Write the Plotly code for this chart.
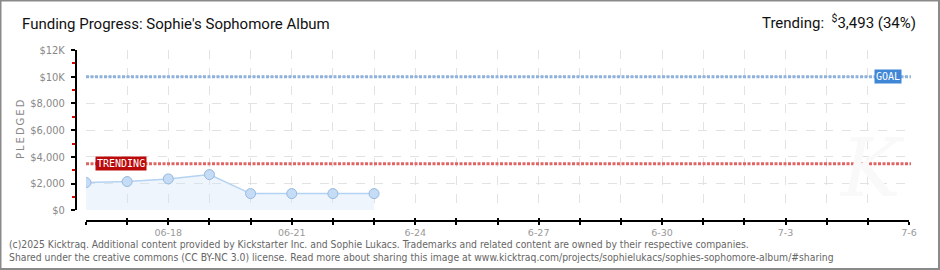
import plotly.graph_objects as go
import pandas as pd

# ---- data ----
dates = ["2025-06-16", "2025-06-17", "2025-06-18", "2025-06-19",
         "2025-06-20", "2025-06-21", "2025-06-22", "2025-06-23"]
pledged = [2077, 2150, 2350, 2675, 1250, 1250, 1250, 1250]
goal = 10000
trending = 3493
trending_pct = 34
title_text = "Funding Progress: Sophie's Sophomore Album"
y_tick_vals = [0, 2000, 4000, 6000, 8000, 10000, 12000]
y_tick_text = ["$0", "$2,000", "$4,000", "$6,000", "$8,000", "$10K", "$12K"]
x_days = pd.date_range("2025-06-16", "2025-07-06", freq="D")
x_label_map = {"2025-06-18": "06-18", "2025-06-21": "06-21", "2025-06-24": "6-24",
               "2025-06-27": "6-27", "2025-06-30": "6-30", "2025-07-03": "7-3",
               "2025-07-06": "7-6"}
footer1 = ("(c)2025 Kicktraq. Additional content provided by Kickstarter Inc. and Sophie Lukacs. "
           "Trademarks and related content are owned by their respective companies.")
footer2 = ("Shared under the creative commons (CC BY-NC 3.0) license. Read more about sharing this image at "
           "www.kicktraq.com/projects/sophielukacs/sophies-sophomore-album/#sharing")

W, H = 940, 270
L, R, T, B = 76, 31, 50, 49
PW, PH = W - L - R, H - T - B


def px(x):
    return (x - L) / PW


def py(y):
    return (H - B - y) / PH


tick_vals = [d.strftime("%Y-%m-%d") for d in x_days]
label_vals = [v for v in tick_vals if v in x_label_map]
label_text = [x_label_map[v] for v in label_vals]

fig = go.Figure()
fig.add_trace(go.Scatter(
    x=dates, y=pledged, mode="lines+markers",
    line=dict(color="#b4d2f2", width=1.5),
    fill="tozeroy", fillcolor="rgba(205,225,250,0.35)",
    marker=dict(size=10, color="#c4dcf6", line=dict(color="#98b8dc", width=1)),
    hoverinfo="skip", showlegend=False,
))
# invisible trace to attach the overlay axis (tick marks crossing the axis line)
fig.add_trace(go.Scatter(x=[dates[0]], y=[pledged[0]], xaxis="x2", mode="markers",
                         marker=dict(opacity=0), hoverinfo="skip", showlegend=False))

# goal & trending lines
fig.add_shape(type="line", xref="paper", yref="y", x0=px(86), x1=px(911), y0=goal, y1=goal,
              line=dict(color="#8fb2dc", width=3, dash="3px,1.5px"))
fig.add_shape(type="line", xref="paper", yref="y", x0=px(86), x1=px(911), y0=trending, y1=trending,
              line=dict(color="#e06464", width=3, dash="3px,1.5px"))

# frame
fig.add_shape(type="rect", xref="paper", yref="paper", x0=px(0.5), x1=px(939), y0=py(269), y1=py(0.5),
              line=dict(color="#8a8a8a", width=2), layer="above")

FONT = "DejaVu Sans Condensed, Roboto, sans-serif"
ts = "\u2009"

annos = [
    dict(x=px(20), y=py(24), text=title_text, xanchor="left", yanchor="middle",
         font=dict(size=15, color="#111", family="Roboto, sans-serif")),
    dict(x=px(918), y=py(22), xanchor="right", yanchor="middle",
         text=f"Trending:  <sup>$</sup>{trending:,} ({trending_pct}%)",
         font=dict(size=15, color="#111", family="Roboto, sans-serif")),
    dict(x=px(120.5), y=trending, yref="y", text="TRENDING", bgcolor="#bb0a0a",
         font=dict(size=10, color="white", family="DejaVu Sans Mono, monospace"),
         borderpad=1, xanchor="center", yanchor="middle"),
    dict(x=px(887.5), y=goal, yref="y", text="GOAL", bgcolor="#3f87d6",
         font=dict(size=10, color="white", family="DejaVu Sans Mono, monospace"),
         borderpad=1, xanchor="center", yanchor="middle"),
    dict(x=px(20), y=py(129), text=ts.join("PLEDGED"), textangle=-90, xanchor="center", yanchor="middle",
         font=dict(size=10, color="#888", family="DejaVu Sans, sans-serif")),
    dict(x=px(872), y=py(168), text="<i>K</i>", xanchor="center", yanchor="middle",
         font=dict(size=80, color="#f9f9f9", family="DejaVu Serif, serif")),
    dict(x=px(7), y=py(244.5), text=footer1, xanchor="left", yanchor="middle",
         font=dict(size=10.3, color="#666", family=FONT)),
    dict(x=px(7), y=py(257), text=footer2, xanchor="left", yanchor="middle",
         font=dict(size=10.3, color="#666", family=FONT)),
]
for a in annos:
    a.setdefault("xref", "paper")
    a.setdefault("yref", "paper")
    a["showarrow"] = False
fig.update_layout(annotations=annos)

xdomain = [10 / PW, 1]
fig.update_layout(
    width=W, height=H, margin=dict(l=L, r=R, t=T, b=B, pad=0),
    paper_bgcolor="white", plot_bgcolor="white",
    xaxis=dict(
        type="date", range=["2025-06-16", "2025-07-06"], domain=xdomain,
        anchor="free", position=0,
        tickmode="array", tickvals=label_vals, ticktext=label_text,
        ticks="outside", ticklen=3, tickcolor="#000", tickwidth=1.5,
        minor=dict(tickmode="array", tickvals=tick_vals, ticks="outside", ticklen=3,
                   tickcolor="#000", tickwidth=1.5, showgrid=True, gridcolor="#e2e2e2",
                   griddash="dash", gridwidth=1),
        showline=True, linecolor="#000", linewidth=2,
        showgrid=True, gridcolor="#e2e2e2", griddash="dash", gridwidth=1,
        zeroline=False,
        tickfont=dict(size=9.5, color="#999", family="DejaVu Sans, sans-serif"),
    ),
    xaxis2=dict(
        type="date", range=["2025-06-16", "2025-07-06"], domain=xdomain,
        anchor="free", position=0, overlaying="x",
        tickmode="array", tickvals=tick_vals, showticklabels=False,
        ticks="inside", ticklen=3, tickcolor="#000", tickwidth=1.5,
        showline=False, showgrid=False, zeroline=False,
    ),
    yaxis=dict(
        range=[0, 12000], domain=[10.7 / PH, 1],
        anchor="free", position=0,
        tickmode="array", tickvals=y_tick_vals, ticktext=y_tick_text,
        ticks="outside", ticklen=4, tickcolor="#000", tickwidth=1.5,
        minor=dict(tickmode="array", tickvals=[1000, 3000, 5000, 7000, 9000, 11000],
                   ticks="outside", ticklen=3, tickcolor="#e00000", showgrid=False),
        showline=True, linecolor="#000", linewidth=2,
        showgrid=True, gridcolor="#e2e2e2", griddash="dash", gridwidth=1,
        zeroline=False, ticklabelstandoff=4,
        tickfont=dict(size=11, color="#888", family="DejaVu Sans Condensed, sans-serif"),
    ),
)

fig.write_html("out.html")
